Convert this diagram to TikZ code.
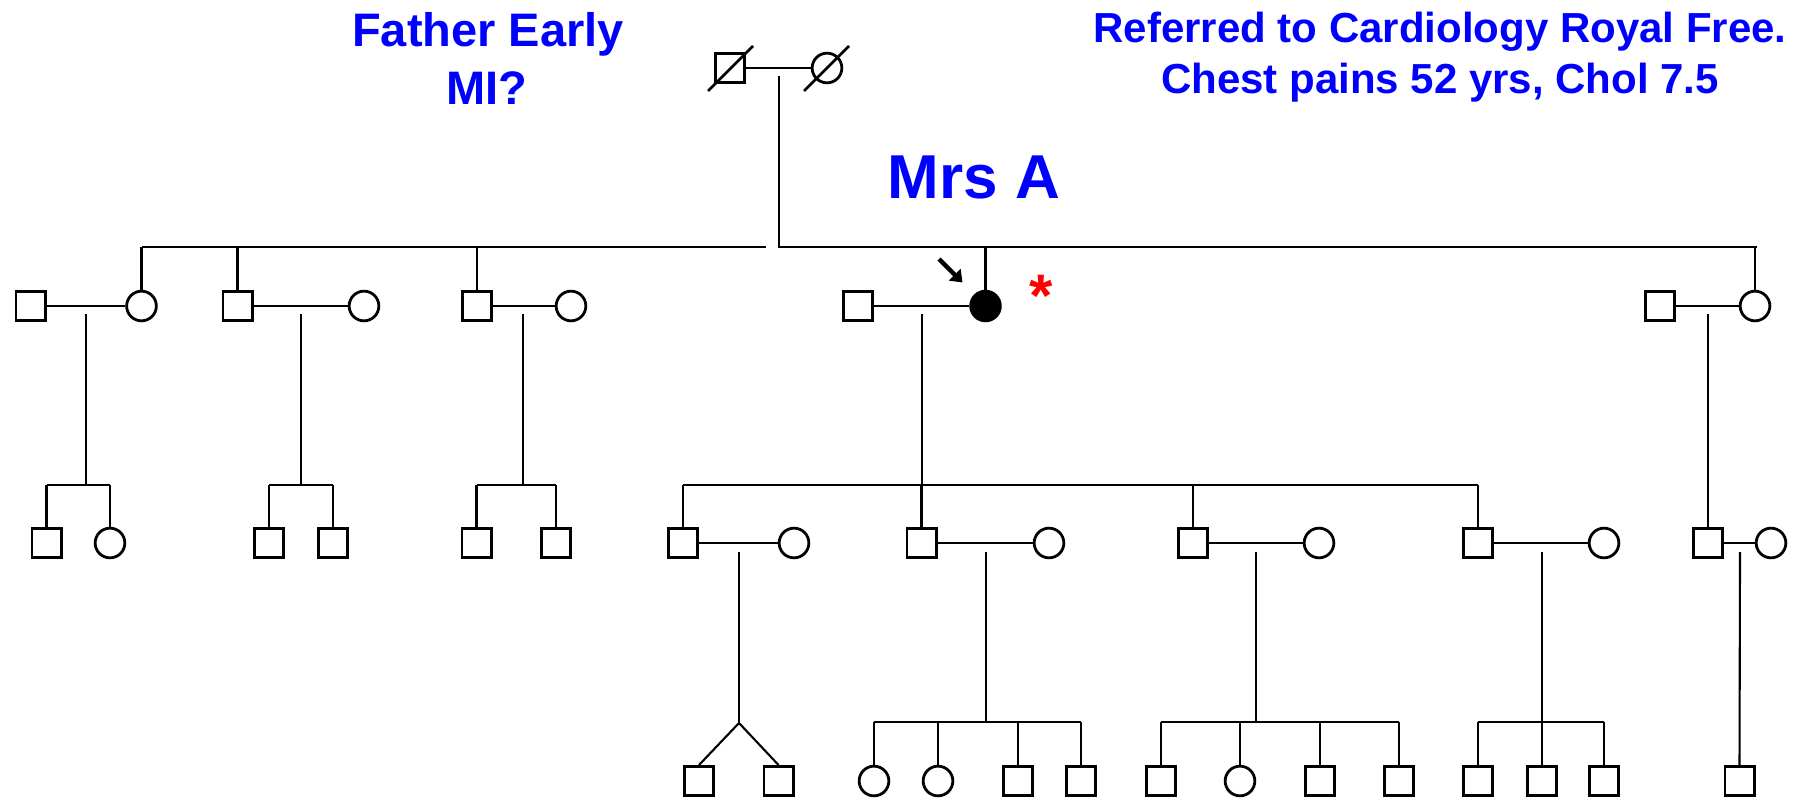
\documentclass[tikz,border=0pt]{standalone}
\usepackage{fontspec}
\setmainfont{Liberation Sans}
\usetikzlibrary{arrows.meta}
\begin{document}
\begin{tikzpicture}[x=1pt,y=-1pt,
  male/.style={draw, rectangle, line width=2.8pt, minimum size=29.2pt, inner sep=0pt},
  female/.style={draw, circle, line width=2.8pt, minimum size=29.7pt, inner sep=0pt},
  affected/.style={female, fill=black},
  link/.style={line width=2.1pt},
  deceased/.style={line width=2.6pt},
  note/.style={text=blue, font=\bfseries\fontsize{47}{56}\selectfont, anchor=base, inner sep=0pt},
  smallnote/.style={text=blue, font=\bfseries\fontsize{42}{50}\selectfont, anchor=base, inner sep=0pt}]
\useasboundingbox (0,0) rectangle (1801,799);

% ---------- captions ----------
\node[note] (t1) at (488,47) {Father Early};
\node[note] (t2) at (487,105) {MI?};
\node[smallnote] (t3) at (1440,43) {Referred to Cardiology Royal Free.};
\node[smallnote] (t4) at (1440,94) {Chest pains 52 yrs, Chol 7.5};
\node[text=blue, font=\bfseries\fontsize{62}{70}\selectfont, anchor=base, inner sep=0pt] (t5) at (974,199) {Mrs A};

% ---------- generation I ----------
\node[male] (I1) at (730,68) {};
\node[female] (I2) at (827,68) {};
\draw[link] (I1) -- (I2);
\draw[deceased] (I1) ++(-22,23) -- ++(45,-45);
\draw[deceased] (I2) ++(-23,23) -- ++(45,-45);
\coordinate (dI) at (779,76);
\coordinate (sIIa) at (142,247);
\coordinate (sIIb) at (766,247);
\coordinate (sIIc) at (779,247);
\coordinate (sIId) at (1757,247);
\draw[link] (dI) -- (sIIc) -- (sIId);
\draw[link] (sIIa) -- (sIIb);

% ---------- generation II ----------
\node[male] (A1) at (30.5,306) {};
\node[female] (A2) at (141.5,306) {};
\node[male] (B1) at (237.5,306) {};
\node[female] (B2) at (364,306) {};
\node[male] (C1) at (477,306) {};
\node[female] (C2) at (571,306) {};
\node[male] (D1) at (858,306) {};
\node[affected] (P) at (985.5,306) {};
\node[male] (E1) at (1660,306) {};
\node[female] (E2) at (1755,306) {};
\foreach \a/\b in {A1/A2,B1/B2,C1/C2,D1/P,E1/E2} \draw[link] (\a) -- (\b);
\foreach \c in {A2,B1,C1,P,E2} \draw[link] (\c.north) -- (\c.north |- sIIa);

% proband marker
\coordinate (arS) at (939,259);
\coordinate (arE) at (962.5,282.5);
\draw[line width=4.5pt, -{Triangle[length=11pt,width=16pt]}] (arS) -- (arE);
\node[text=red, font=\bfseries\fontsize{60}{60}\selectfont, anchor=base, inner sep=0pt] (star) at (1041,317) {*};

% ---------- generation III ----------
\node[male] (A3) at (46.5,543) {};
\node[female] (A4) at (110,543) {};
\node[male] (B3) at (269,543) {};
\node[male] (B4) at (333,543) {};
\node[male] (C3) at (476.5,543) {};
\node[male] (C4) at (556,543) {};
\node[male] (G1) at (683,543) {};
\node[female] (G2) at (794,543) {};
\node[male] (H1) at (921.5,543) {};
\node[female] (H2) at (1049,543) {};
\node[male] (J1) at (1193,543) {};
\node[female] (J2) at (1319,543) {};
\node[male] (K1) at (1478,543) {};
\node[female] (K2) at (1604,543) {};
\node[male] (L1) at (1708,543) {};
\node[female] (L2) at (1771,543) {};
\foreach \a/\b in {G1/G2,H1/H2,J1/J2,K1/K2,L1/L2} \draw[link] (\a) -- (\b);

% descent lines and sibships of generation III
\coordinate (dA) at (86,314);   \coordinate (jA) at (86,485);
\coordinate (dB) at (301,314);  \coordinate (jB) at (301,485);
\coordinate (dC) at (523,314);  \coordinate (jC) at (523,485);
\coordinate (dD) at (922,314);  \coordinate (jD) at (922,485);
\coordinate (dE) at (1708,314);
\foreach \d/\j in {dA/jA,dB/jB,dC/jC,dD/jD} \draw[link] (\d) -- (\j);
\draw[link] (dE) -- (L1.north);
\draw[link] (A3.north |- jA) -- (A4.north |- jA);
\draw[link] (B3.north |- jB) -- (B4.north |- jB);
\draw[link] (C3.north |- jC) -- (C4.north |- jC);
\draw[link] (G1.north |- jD) -- (K1.north |- jD);
\foreach \c in {A3,A4} \draw[link] (\c.north) -- (\c.north |- jA);
\foreach \c in {B3,B4} \draw[link] (\c.north) -- (\c.north |- jB);
\foreach \c in {C3,C4} \draw[link] (\c.north) -- (\c.north |- jC);
\foreach \c in {G1,H1,J1,K1} \draw[link] (\c.north) -- (\c.north |- jD);

% ---------- generation IV ----------
\node[male] (G3) at (699,781) {};
\node[male] (G4) at (778.5,781) {};
\node[female] (H3) at (874,781) {};
\node[female] (H4) at (938,781) {};
\node[male] (H5) at (1018,781) {};
\node[male] (H6) at (1081,781) {};
\node[male] (J3) at (1161,781) {};
\node[female] (J4) at (1240,781) {};
\node[male] (J5) at (1320,781) {};
\node[male] (J6) at (1399,781) {};
\node[male] (K3) at (1478,781) {};
\node[male] (K4) at (1542,781) {};
\node[male] (K5) at (1604,781) {};
\node[male] (L3) at (1739.5,781) {};

\coordinate (dG) at (739,552);  \coordinate (jG) at (739,723);
\coordinate (dH) at (986,552);  \coordinate (jH) at (986,722);
\coordinate (dJ) at (1256,552); \coordinate (jJ) at (1256,722);
\coordinate (dK) at (1542,552); \coordinate (jK) at (1542,722);
\coordinate (dL) at (1740,552);
\foreach \d/\j in {dG/jG,dH/jH,dJ/jJ,dK/jK} \draw[link] (\d) -- (\j);
\draw[link] (dL) -- (L3.north);
% twins
\draw[link] (jG) -- (G3.north);
\draw[link] (jG) -- (G4.north);
\draw[link] (H3.north |- jH) -- (H6.north |- jH);
\draw[link] (J3.north |- jJ) -- (J6.north |- jJ);
\draw[link] (K3.north |- jK) -- (K5.north |- jK);
\foreach \c in {H3,H4,H5,H6} \draw[link] (\c.north) -- (\c.north |- jH);
\foreach \c in {J3,J4,J5,J6} \draw[link] (\c.north) -- (\c.north |- jJ);
\foreach \c in {K3,K4,K5} \draw[link] (\c.north) -- (\c.north |- jK);
\end{tikzpicture}
\end{document}
